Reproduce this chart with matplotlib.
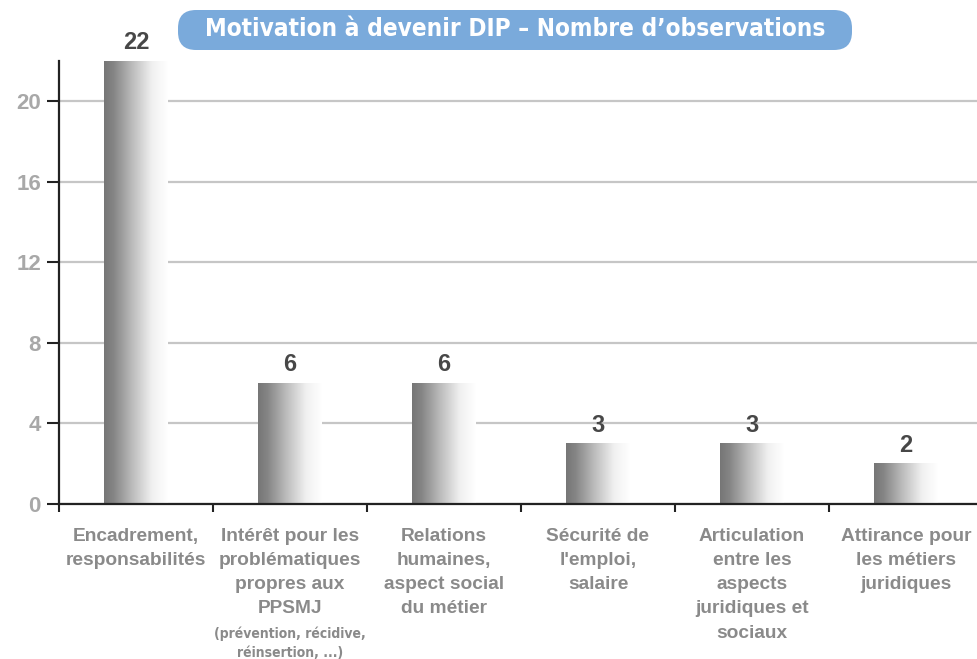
import matplotlib
matplotlib.use("Agg")
import matplotlib.pyplot as plt
import numpy as np
from matplotlib.colors import LinearSegmentedColormap
from matplotlib.patches import FancyBboxPatch
from matplotlib.transforms import IdentityTransform
from matplotlib import font_manager

plt.rcParams["font.family"] = ["Liberation Sans", "DejaVu Sans"]

names = {f.name for f in font_manager.fontManager.ttflist}
narrow = "Liberation Sans Narrow" if "Liberation Sans Narrow" in names else None

categories = [
    "Encadrement,\nresponsabilités",
    "Intérêt pour les\nproblématiques\npropres aux\nPPSMJ",
    "Relations\nhumaines,\naspect social\ndu métier",
    "Sécurité de\nl'emploi,\nsalaire",
    "Articulation\nentre les\naspects\njuridiques et\nsociaux",
    "Attirance pour\nles métiers\njuridiques",
]
sub_note = "(prévention, récidive,\nréinsertion, ...)"
values = [22, 6, 6, 3, 3, 2]
yticks = [0, 4, 8, 12, 16, 20]
title = "Motivation à devenir DIP – Nombre d’observations"

W, H = 977, 659
fig = plt.figure(figsize=(W / 100, H / 100), dpi=100)
ax = fig.add_axes([59 / W, 1 - 504 / H, (983 - 59) / W, (504 - 61) / H])

ax.set_xlim(-0.5, 5.5)
ax.set_ylim(0, 22)

cmap = LinearSegmentedColormap.from_list(
    "g", [(0, "#767676"), (0.15, "#858585"), (0.45, "#bdbdbd"), (0.75, "#f0f0f0"), (1, "#ffffff")]
)
grad = np.linspace(0, 1, 256).reshape(1, -1)
bw = 0.41
for i, v in enumerate(values):
    ax.imshow(grad, cmap=cmap, aspect="auto", extent=[i - bw / 2, i + bw / 2, 0, v],
              zorder=2, interpolation="bilinear")
    ax.annotate(str(v), (i, v), xytext=(0, 5), textcoords="offset points",
                ha="center", va="bottom", fontsize=17, fontweight="bold",
                color="#474747", zorder=5, annotation_clip=False)

ax.set_yticks(yticks)
ax.set_yticklabels([str(t) for t in yticks])
ax.yaxis.grid(True, color="#c6c6c6", linewidth=1.6, zorder=0)
ax.set_axisbelow(True)

ax.set_xticks(range(len(categories)))
ax.set_xticklabels(categories)
ax.set_xticks(np.arange(-0.5, 6.0, 1.0), minor=True)
ax.tick_params(axis="x", which="major", length=0, pad=17, labelsize=13.8,
               labelcolor="#8a8a8a")
for lab in ax.get_xticklabels():
    lab.set_fontweight("bold")
    lab.set_linespacing(1.56)
ax.tick_params(axis="x", which="minor", length=6, width=1.5, direction="out", color="#222222")
ax.tick_params(axis="y", which="major", length=9, width=1.5, direction="out",
               color="#222222", labelsize=16, labelcolor="#a8a8a8", pad=4)
for lab in ax.get_yticklabels():
    lab.set_fontweight("bold")

for s in ["top", "right"]:
    ax.spines[s].set_visible(False)
for s in ["left", "bottom"]:
    ax.spines[s].set_color("#222222")
    ax.spines[s].set_linewidth(1.6)

# sub-note under second category
note_kw = dict(family=narrow) if narrow else dict(family="DejaVu Sans", fontstretch="condensed")
ax.annotate(sub_note, (1, 0), xytext=(0, -88), textcoords="offset points",
            ha="center", va="top", fontsize=11.5 if narrow else 10, fontweight="bold",
            color="#8a8a8a", linespacing=1.5, annotation_clip=False, **note_kw)

# title box
box = FancyBboxPatch((178, H - 50), 852 - 178, 40,
                     boxstyle="round,pad=0,rounding_size=18",
                     transform=IdentityTransform(), facecolor="#7aaadb",
                     edgecolor="none", zorder=10)
fig.patches.append(box)
title_kw = dict(family=narrow) if narrow else dict(family="DejaVu Sans", fontstretch="condensed")
fig.text((178 + 852) / 2 / W, 1 - 29 / H, title, ha="center", va="center",
         color="white", fontsize=19 if narrow else 17.5, fontweight="bold",
         zorder=11, **title_kw)

fig.savefig("out.png", dpi=100)
